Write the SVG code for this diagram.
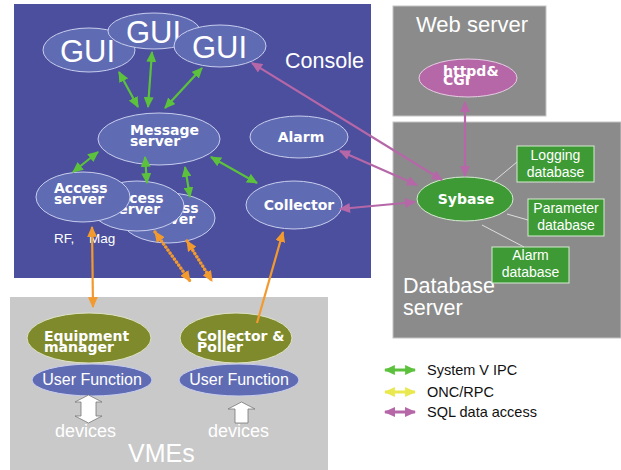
<svg xmlns="http://www.w3.org/2000/svg" width="621" height="470" viewBox="0 0 621 470">
  <style>
    .lbl { font-family: "Liberation Sans", Arial, sans-serif; fill: #ffffff; }
    .bold { font-family: "DejaVu Sans", "Liberation Sans", sans-serif; font-weight: bold; font-size: 14px; fill: #ffffff; }
    .blue { fill: #5f6cb3; stroke: #c9cdee; stroke-width: 1; }
    .green-el { fill: #3d9a35; stroke: #d6ecd2; stroke-width: 1; }
    .olive { fill: #7f8a2c; stroke: #dfe3c4; stroke-width: 1; }
    .db { fill: #3d9a35; stroke: #d6ecd2; stroke-width: 1; }
    .dbtxt { font-family: "Liberation Sans", Arial, sans-serif; font-size: 14px; fill: #ffffff; text-anchor: middle; }
    .ipc { stroke: #5cc13c; stroke-width: 2.2; fill: none; }
    .sql { stroke: #b667a8; stroke-width: 2.2; fill: none; }
    .onc { stroke: #f39a2e; stroke-width: 2.2; fill: none; }
    .dots { stroke-width: 3.4; stroke-dasharray: 0.1 3.6; stroke-linecap: round; }
    .link { stroke: #dddddd; stroke-width: 1; }
    .legend { font-family: "Liberation Sans", Arial, sans-serif; font-size: 14.5px; fill: #111111; }
  </style>
  <defs>
    <marker id="hg" viewBox="0 0 10 9" refX="9" refY="4.5" markerUnits="userSpaceOnUse" markerWidth="11" markerHeight="10" orient="auto-start-reverse">
      <path d="M0,0 L10,4.5 L0,9 z" fill="#5cc13c"/>
    </marker>
    <marker id="hm" viewBox="0 0 10 9" refX="9" refY="4.5" markerUnits="userSpaceOnUse" markerWidth="12" markerHeight="10" orient="auto-start-reverse">
      <path d="M0,0 L10,4.5 L0,9 z" fill="#b667a8"/>
    </marker>
    <marker id="ho" viewBox="0 0 10 9" refX="9" refY="4.5" markerUnits="userSpaceOnUse" markerWidth="11" markerHeight="10" orient="auto-start-reverse">
      <path d="M0,0 L10,4.5 L0,9 z" fill="#f39a2e"/>
    </marker>
    <marker id="hy" viewBox="0 0 10 9" refX="9" refY="4.5" markerUnits="userSpaceOnUse" markerWidth="11" markerHeight="10" orient="auto-start-reverse">
      <path d="M0,0 L10,4.5 L0,9 z" fill="#e9e84f"/>
    </marker>
  </defs>

  <!-- white page -->
  <rect x="0" y="0" width="621" height="470" fill="#ffffff"/>

  <!-- host areas -->
  <g id="console">
    <rect x="14" y="4" width="357" height="274" fill="#4b4f9d"/>
    <text class="lbl" x="285" y="68" font-size="21.5">Console</text>
  </g>
  <g id="web-server">
    <rect x="393" y="6" width="153" height="110" fill="#8b8b8b" stroke="#c4c4c4" stroke-width="1"/>
    <text class="lbl" x="416" y="32" font-size="22">Web server</text>
  </g>
  <g id="database-server">
    <rect x="393" y="122" width="228" height="216" fill="#8b8b8b" stroke="#c4c4c4" stroke-width="1"/>
    <text class="lbl" x="403" y="293" font-size="21.5">Database</text>
    <text class="lbl" x="403" y="315" font-size="21.5">server</text>
  </g>
  <g id="vmes">
    <rect x="10" y="297" width="318" height="180" fill="#c9c9c9"/>
    <text class="lbl" x="128" y="462" font-size="25">VMEs</text>
  </g>

  <!-- console processes -->
  <g id="gui-1">
    <ellipse class="blue" cx="89" cy="50" rx="46" ry="22"/>
    <text class="lbl" x="60" y="62" font-size="31">GUI</text>
  </g>
  <g id="gui-2">
    <ellipse class="blue" cx="154" cy="31" rx="46" ry="18"/>
    <text class="lbl" x="126" y="43" font-size="31">GUI</text>
  </g>
  <g id="gui-3">
    <ellipse class="blue" cx="220" cy="46" rx="46" ry="21"/>
    <text class="lbl" x="192" y="58" font-size="31">GUI</text>
  </g>
  <g id="message-server">
    <ellipse class="blue" cx="159" cy="139" rx="61" ry="26"/>
    <text class="bold" x="130" y="135">Message</text>
    <text class="bold" x="130" y="146">server</text>
  </g>
  <g id="alarm">
    <ellipse class="blue" cx="299" cy="137" rx="49" ry="21"/>
    <text class="bold" x="301" y="142" text-anchor="middle">Alarm</text>
  </g>
  <g id="collector">
    <ellipse class="blue" cx="294" cy="205" rx="48" ry="24"/>
    <text class="bold" x="299" y="210" text-anchor="middle">Collector</text>
  </g>
  <g id="access-server-3">
    <ellipse class="blue" cx="168" cy="218" rx="47" ry="25"/>
    <text class="bold" x="145" y="213">Access</text>
    <text class="bold" x="145" y="224">server</text>
  </g>
  <g id="access-server-2">
    <ellipse class="blue" cx="137" cy="206" rx="47" ry="25"/>
    <text class="bold" x="110" y="203">Access</text>
    <text class="bold" x="110" y="214">server</text>
  </g>
  <g id="access-server-1">
    <ellipse class="blue" cx="83" cy="197" rx="47" ry="25"/>
    <text class="bold" x="54" y="193">Access</text>
    <text class="bold" x="54" y="204">server</text>
  </g>
  <g id="rf-mag">
    <text class="lbl" x="54" y="243" font-size="13.5">RF,</text>
    <text class="lbl" x="89" y="243" font-size="13.5">Mag</text>
  </g>

  <!-- web and database processes -->
  <g id="httpd-cgi">
    <ellipse cx="468" cy="78" rx="49" ry="19" fill="#b667a8" stroke="#e6cde2" stroke-width="1"/>
    <text class="bold" x="443" y="76" font-size="13.5">httpd&amp;</text>
    <text class="bold" x="443" y="85" font-size="13.5">CGI</text>
  </g>
  <g id="sybase">
    <ellipse class="green-el" cx="465" cy="199" rx="48" ry="22"/>
    <text class="bold" x="466" y="204" text-anchor="middle">Sybase</text>
  </g>
  <g id="logging-database">
    <rect class="db" x="517" y="146" width="77" height="36"/>
    <text class="dbtxt" x="555.5" y="160">Logging</text>
    <text class="dbtxt" x="555.5" y="177">database</text>
  </g>
  <g id="parameter-database">
    <rect class="db" x="528" y="199" width="76" height="37"/>
    <text class="dbtxt" x="566" y="213">Parameter</text>
    <text class="dbtxt" x="566" y="230">database</text>
  </g>
  <g id="alarm-database">
    <rect class="db" x="492" y="247" width="77" height="36"/>
    <text class="dbtxt" x="530.5" y="260">Alarm</text>
    <text class="dbtxt" x="530.5" y="277">database</text>
  </g>

  <!-- VME processes -->
  <g id="equipment-manager">
    <ellipse class="olive" cx="89" cy="338" rx="62" ry="25"/>
    <text class="bold" x="44" y="341">Equipment</text>
    <text class="bold" x="44" y="352">manager</text>
  </g>
  <g id="collector-poller">
    <ellipse class="olive" cx="236" cy="338" rx="56" ry="25"/>
    <text class="bold" x="197" y="341">Collector &amp;</text>
    <text class="bold" x="197" y="352">Poller</text>
  </g>
  <g id="user-function-1">
    <ellipse class="blue" cx="92" cy="380" rx="60" ry="16"/>
    <text class="lbl" x="92" y="385" font-size="16" text-anchor="middle">User Function</text>
  </g>
  <g id="user-function-2">
    <ellipse class="blue" cx="239" cy="380" rx="60" ry="16"/>
    <text class="lbl" x="239" y="385" font-size="16" text-anchor="middle">User Function</text>
  </g>
  <g id="devices-1">
    <path d="M88.5,395 L102,402 L96,402 L96,416 L102,416 L88.5,423 L75,416 L81,416 L81,402 L75,402 z" fill="#ffffff" stroke="#777777" stroke-width="0.8"/>
    <text class="lbl" x="55" y="437" font-size="18">devices</text>
  </g>
  <g id="devices-2">
    <path d="M241.5,402 L255,409 L248,409 L248,423 L235,423 L235,409 L228,409 z" fill="#ffffff" stroke="#777777" stroke-width="0.8"/>
    <text class="lbl" x="208" y="437" font-size="18">devices</text>
  </g>

  <!-- connectors -->
  <g id="connectors">
    <!-- System V IPC -->
    <line class="ipc" x1="119" y1="72" x2="138" y2="107" marker-start="url(#hg)" marker-end="url(#hg)"/>
    <line class="ipc" x1="152" y1="52" x2="148" y2="107" marker-start="url(#hg)" marker-end="url(#hg)"/>
    <line class="ipc" x1="202" y1="68" x2="165" y2="108" marker-start="url(#hg)" marker-end="url(#hg)"/>
    <line class="ipc" x1="98" y1="152" x2="73" y2="172" marker-start="url(#hg)" marker-end="url(#hg)"/>
    <line class="ipc" x1="145" y1="157" x2="147" y2="183" marker-start="url(#hg)" marker-end="url(#hg)"/>
    <line class="ipc" x1="185" y1="167" x2="190" y2="197" marker-start="url(#hg)" marker-end="url(#hg)"/>
    <line class="ipc" x1="211" y1="157" x2="257" y2="183" marker-start="url(#hg)" marker-end="url(#hg)"/>
    <!-- SQL data access -->
    <line class="sql" x1="252" y1="63" x2="442" y2="180" marker-start="url(#hm)" marker-end="url(#hm)"/>
    <line class="sql" x1="340" y1="151" x2="417" y2="185" marker-start="url(#hm)" marker-end="url(#hm)"/>
    <line class="sql" x1="340" y1="209" x2="415" y2="202" marker-start="url(#hm)" marker-end="url(#hm)"/>
    <line class="sql" x1="465" y1="102" x2="465" y2="176" marker-start="url(#hm)" marker-end="url(#hm)"/>
    <!-- VME links -->
    <line class="onc" x1="92" y1="227" x2="93" y2="307" marker-start="url(#ho)" marker-end="url(#ho)"/>
    <line class="onc" x1="257" y1="323" x2="283" y2="232" marker-end="url(#ho)"/>
    <line class="onc dots" x1="155" y1="232" x2="190" y2="281" marker-start="url(#ho)" marker-end="url(#ho)"/>
    <line class="onc dots" x1="187" y1="241" x2="212" y2="281" marker-start="url(#ho)" marker-end="url(#ho)"/>
    <!-- database attachments -->
    <line class="link" x1="493" y1="182" x2="517" y2="162"/>
    <line class="link" x1="507" y1="214" x2="528" y2="220"/>
    <line class="link" x1="482" y1="225" x2="524" y2="247"/>
  </g>

  <!-- key -->
  <g id="legend">
    <line x1="385" y1="370" x2="415" y2="370" stroke="#5cc13c" stroke-width="3" marker-start="url(#hg)" marker-end="url(#hg)"/>
    <text class="legend" x="427" y="375">System V IPC</text>
    <line x1="385" y1="392" x2="415" y2="392" stroke="#e9e84f" stroke-width="3" marker-start="url(#hy)" marker-end="url(#hy)"/>
    <text class="legend" x="427" y="397">ONC/RPC</text>
    <line x1="385" y1="412" x2="415" y2="412" stroke="#b667a8" stroke-width="3" marker-start="url(#hm)" marker-end="url(#hm)"/>
    <text class="legend" x="427" y="417">SQL data access</text>
  </g>
</svg>
